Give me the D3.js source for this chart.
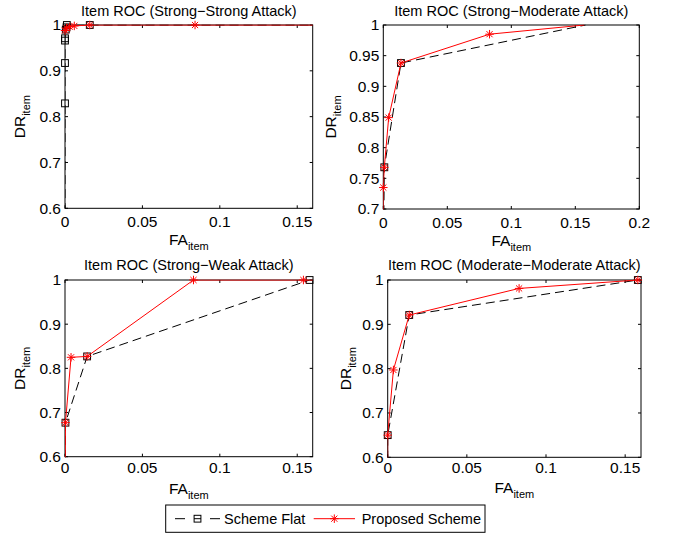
<!DOCTYPE html>
<html>
<head>
<meta charset="utf-8">
<script src="https://cdn.jsdelivr.net/npm/d3@7"></script>
<style>
  html, body { margin: 0; padding: 0; background: #fff; }
  svg { display: block; font-family: "Liberation Sans", Arial, Helvetica, sans-serif; }
</style>
</head>
<body>
<svg id="chart" width="673" height="535"></svg>
<script>
// ---------- DATA ----------
const panelTitles = [
  "Item ROC (Strong\u2212Strong Attack)",
  "Item ROC (Strong\u2212Moderate Attack)",
  "Item ROC (Strong\u2212Weak Attack)",
  "Item ROC (Moderate\u2212Moderate Attack)"
];
const xDomains = [[0, 0.16], [0, 0.2], [0, 0.16], [0, 0.16]];
const yDomains = [[0.6, 1], [0.7, 1], [0.6, 1], [0.6, 1]];
const xTicksA = [0, 0.05, 0.1, 0.15];
const xTickLabelsA = ["0", "0.05", "0.1", "0.15"];
const xTicksB = [0, 0.05, 0.1, 0.15, 0.2];
const xTickLabelsB = ["0", "0.05", "0.1", "0.15", "0.2"];
const yTicksA = [0.6, 0.7, 0.8, 0.9, 1];
const yTickLabelsA = ["0.6", "0.7", "0.8", "0.9", "1"];
const yTicksB = [0.7, 0.75, 0.8, 0.85, 0.9, 0.95, 1];
const yTickLabelsB = ["0.7", "0.75", "0.8", "0.85", "0.9", "0.95", "1"];

const seriesNames = ["Scheme Flat", "Proposed Scheme"];

// Panel 1: Strong-Strong
const flatFA1 = [0, 0, 0, 0, 0, 0.0005, 0.001, 0.0012, 0.016, 0.17];
const flatDR1 = [0.5, 0.829, 0.917, 0.966, 0.971, 0.99, 0.995, 1, 1, 1];
const flatMark1 = [0, 1, 1, 1, 1, 1, 1, 1, 1, 0];
const propFA1 = [0, 0.001, 0.003, 0.006, 0.016, 0.084, 0.17];
const propDR1 = [0.988, 0.993, 0.996, 0.998, 1, 1, 1];
const propMark1 = [1, 1, 1, 1, 1, 1, 0];

// Panel 2: Strong-Moderate
const flatFA2 = [0, 0.0008, 0.0138, 0.158];
const flatDR2 = [0.6, 0.768, 0.938, 1];
const flatMark2 = [0, 1, 1, 0];
const propFA2 = [0, 0, 0.0008, 0.0042, 0.0138, 0.083, 0.157];
const propDR2 = [0.6, 0.735, 0.768, 0.849, 0.938, 0.985, 1];
const propMark2 = [0, 1, 1, 1, 1, 1, 0];

// Panel 3: Strong-Weak
const flatFA3 = [0, 0.0003, 0.0143, 0.158];
const flatDR3 = [0.5, 0.677, 0.827, 1];
const flatMark3 = [0, 1, 1, 1];
const propFA3 = [0, 0.0003, 0.0039, 0.0143, 0.083, 0.154, 0.165];
const propDR3 = [0.5, 0.677, 0.825, 0.827, 1, 1, 1];
const propMark3 = [0, 1, 1, 1, 1, 1, 0];

// Panel 4: Moderate-Moderate
const flatFA4 = [0, 0, 0.0136, 0.158];
const flatDR4 = [0.5, 0.65, 0.921, 1];
const flatMark4 = [0, 1, 1, 1];
const propFA4 = [0, 0, 0.0036, 0.0136, 0.083, 0.158];
const propDR4 = [0.5, 0.65, 0.797, 0.921, 0.981, 1];
const propMark4 = [0, 1, 1, 1, 1, 1];

// ---------- LAYOUT ----------
const layout = [
  { l: 65,    t: 25,  r: 312.7, b: 208.3, titleY: 16,    xlabOff: 18.5, xaxY: 245, yaxX: 25 },
  { l: 383.3, t: 25,  r: 639.3, b: 209,   titleY: 16,    xlabOff: 19, xaxY: 246, yaxX: 336 },
  { l: 65,    t: 280, r: 312.7, b: 456.7, titleY: 269.5, xlabOff: 16, xaxY: 494, yaxX: 25 },
  { l: 387.7, t: 280, r: 641,   b: 457.3, titleY: 269.5, xlabOff: 15.5, xaxY: 493, yaxX: 351 }
];
const xTickSets = [[xTicksA, xTickLabelsA], [xTicksB, xTickLabelsB], [xTicksA, xTickLabelsA], [xTicksA, xTickLabelsA]];
const yTickSets = [[yTicksA, yTickLabelsA], [yTicksB, yTickLabelsB], [yTicksA, yTickLabelsA], [yTicksA, yTickLabelsA]];
const flatSets = [[flatFA1, flatDR1, flatMark1], [flatFA2, flatDR2, flatMark2], [flatFA3, flatDR3, flatMark3], [flatFA4, flatDR4, flatMark4]];
const propSets = [[propFA1, propDR1, propMark1], [propFA2, propDR2, propMark2], [propFA3, propDR3, propMark3], [propFA4, propDR4, propMark4]];

const FONT = 14.5, TICKFONT = 15.5, LABFONT = 15.5, SUB = 11, TICK = 3;
const svg = d3.select("#chart");
const defs = svg.append("defs");

function starPath(cx, cy, s) {
  const h = s / 2, d = h * 0.72;
  return `M${cx - h},${cy}L${cx + h},${cy}M${cx},${cy - h}L${cx},${cy + h}` +
         `M${cx - d},${cy - d}L${cx + d},${cy + d}M${cx - d},${cy + d}L${cx + d},${cy - d}`;
}
function drawSquare(g, x, y) {
  g.append("rect").attr("x", x - 3.4).attr("y", y - 3.4).attr("width", 6.8).attr("height", 6.8)
    .attr("fill", "none").attr("stroke", "#000").attr("stroke-width", 1);
}
function drawStar(g, x, y) {
  g.append("path").attr("d", starPath(x, y, 8.5)).attr("stroke", "#ff0000")
    .attr("stroke-width", 1).attr("fill", "none");
}

layout.forEach((L, i) => {
  const x = d3.scaleLinear().domain(xDomains[i]).range([L.l, L.r]);
  const y = d3.scaleLinear().domain(yDomains[i]).range([L.b, L.t]);
  const g = svg.append("g");

  defs.append("clipPath").attr("id", "clip" + i).append("rect")
    .attr("x", L.l).attr("y", L.t - 0.5).attr("width", L.r - L.l).attr("height", L.b - L.t + 1);

  g.append("rect").attr("x", L.l).attr("y", L.t).attr("width", L.r - L.l).attr("height", L.b - L.t)
    .attr("fill", "#fff").attr("stroke", "none");

  // ticks (inward, all four sides)
  const [xt, xtl] = xTickSets[i];
  const [yt, ytl] = yTickSets[i];
  const ticks = g.append("g").attr("stroke", "#000").attr("stroke-width", 1);
  xt.forEach(v => {
    ticks.append("line").attr("x1", x(v)).attr("x2", x(v)).attr("y1", L.b).attr("y2", L.b - TICK);
    ticks.append("line").attr("x1", x(v)).attr("x2", x(v)).attr("y1", L.t).attr("y2", L.t + TICK);
  });
  yt.forEach(v => {
    ticks.append("line").attr("x1", L.l).attr("x2", L.l + TICK).attr("y1", y(v)).attr("y2", y(v));
    ticks.append("line").attr("x1", L.r).attr("x2", L.r - TICK).attr("y1", y(v)).attr("y2", y(v));
  });
  xt.forEach((v, k) => {
    g.append("text").attr("x", x(v)).attr("y", L.b + L.xlabOff).attr("text-anchor", "middle")
      .attr("font-size", TICKFONT).attr("fill", "#000").text(xtl[k]);
  });
  yt.forEach((v, k) => {
    g.append("text").attr("x", L.l - 4).attr("y", y(v)).attr("dy", "0.35em").attr("text-anchor", "end")
      .attr("font-size", TICKFONT).attr("fill", "#000").text(ytl[k]);
  });

  // box border
  g.append("rect").attr("x", L.l).attr("y", L.t).attr("width", L.r - L.l).attr("height", L.b - L.t)
    .attr("fill", "none").attr("stroke", "#000").attr("stroke-width", 1);

  // data
  const plot = g.append("g");
  const lineGen = d3.line().x(d => x(d[0])).y(d => y(d[1]));
  const [fx, fy, fm] = flatSets[i];
  const [px, py, pm] = propSets[i];
  const flatPts = fx.map((v, k) => [v, fy[k], fm[k]]);
  const propPts = px.map((v, k) => [v, py[k], pm[k]]);

  plot.append("path").attr("d", lineGen(flatPts)).attr("clip-path", `url(#clip${i})`)
    .attr("fill", "none").attr("stroke", "#000").attr("stroke-width", 1).attr("stroke-dasharray", "9,5");
  flatPts.filter(d => d[2]).forEach(d => drawSquare(plot, x(d[0]), y(d[1])));

  plot.append("path").attr("d", lineGen(propPts)).attr("clip-path", `url(#clip${i})`)
    .attr("fill", "none").attr("stroke", "#ff0000").attr("stroke-width", 1);
  propPts.filter(d => d[2]).forEach(d => drawStar(plot, x(d[0]), y(d[1])));

  // title
  g.append("text").attr("x", (L.l + L.r) / 2).attr("y", L.titleY).attr("text-anchor", "middle")
    .attr("font-size", FONT).attr("fill", "#000").text(panelTitles[i]);

  // x label
  const xl = g.append("text").attr("x", (L.l + L.r) / 2).attr("y", L.xaxY).attr("text-anchor", "middle")
    .attr("font-size", LABFONT).attr("fill", "#000");
  xl.append("tspan").text("FA");
  xl.append("tspan").attr("font-size", SUB).attr("dy", 5).text("item");

  // y label
  const cy = (L.t + L.b) / 2;
  const yl = g.append("text").attr("transform", `translate(${L.yaxX},${cy}) rotate(-90)`)
    .attr("text-anchor", "middle").attr("font-size", LABFONT).attr("fill", "#000");
  yl.append("tspan").text("DR");
  yl.append("tspan").attr("font-size", SUB).attr("dy", 5).text("item");
});

// ---------- LEGEND ----------
const lg = svg.append("g");
lg.append("rect").attr("x", 165.7).attr("y", 505).attr("width", 319.3).attr("height", 27.3)
  .attr("fill", "#fff").attr("stroke", "#000").attr("stroke-width", 1);
const ly = 518.7;
lg.append("line").attr("x1", 175).attr("x2", 185).attr("y1", ly).attr("y2", ly)
  .attr("stroke", "#000").attr("stroke-width", 1);
lg.append("line").attr("x1", 210).attr("x2", 220).attr("y1", ly).attr("y2", ly)
  .attr("stroke", "#000").attr("stroke-width", 1);
drawSquare(lg, 197.5, ly);
lg.append("line").attr("x1", 194).attr("x2", 201).attr("y1", ly).attr("y2", ly)
  .attr("stroke", "#000").attr("stroke-width", 1);
lg.append("text").attr("x", 224).attr("y", ly).attr("dy", "0.35em").attr("font-size", FONT)
  .attr("fill", "#000").text(seriesNames[0]);
lg.append("line").attr("x1", 313.7).attr("x2", 355).attr("y1", ly).attr("y2", ly)
  .attr("stroke", "#ff0000").attr("stroke-width", 1);
drawStar(lg, 334.3, ly);
lg.append("text").attr("x", 361.7).attr("y", ly).attr("dy", "0.35em").attr("font-size", FONT)
  .attr("fill", "#000").text(seriesNames[1]);
</script>
</body>
</html>
